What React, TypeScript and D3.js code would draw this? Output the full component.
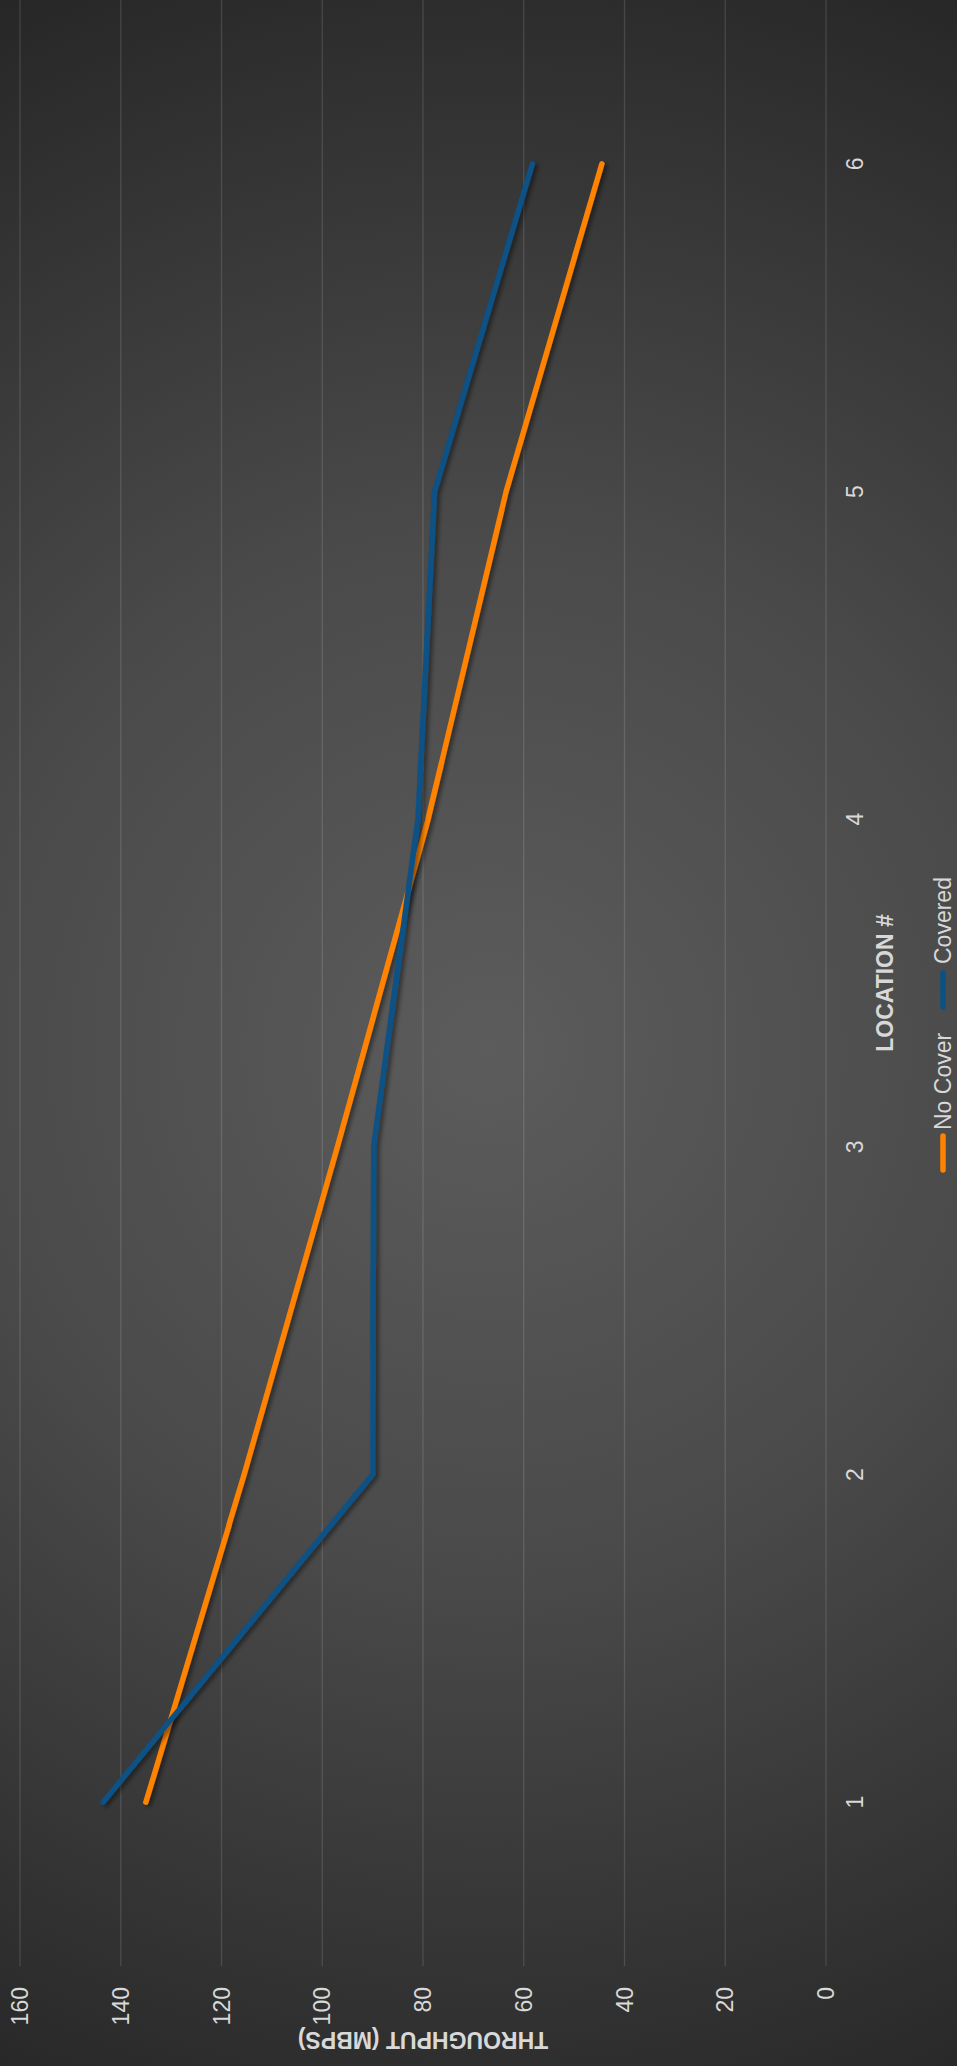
import React from "react";
import * as d3 from "d3";

const locations = [1, 2, 3, 4, 5, 6];
const noCover = [135, 115.5, 97, 79, 63.5, 44.5];
const covered = [143.5, 90, 89.8, 81, 77.7, 58.3];
const yTicks = [0, 20, 40, 60, 80, 100, 120, 140, 160];
const seriesNames = ["No Cover", "Covered"];
const seriesColors = ["#ff8300", "#0a5185"];

const PAGE_W = 957;
const PAGE_H = 2066;
// chart is drawn in its own (unrotated) frame: width = PAGE_H, height = PAGE_W
const W = PAGE_H;
const FONT = "'Liberation Sans', Arial, Helvetica, sans-serif";

export default function App() {
  const x = d3.scalePoint<number>().domain(locations).range([100, W]).padding(0.5);
  const y = d3.scaleLinear().domain([0, 160]).range([826, 20]);
  const line = d3
    .line<number>()
    .x((_, i) => x(locations[i]) as number)
    .y((d) => y(d));
  const series = [noCover, covered];

  const legendItems = [
    { lx: 893, tx: 936 },
    { lx: 1056, tx: 1102 },
  ];

  return (
    <>
      <style>{`body{margin:0;}`}</style>
      <svg
        width={PAGE_W}
        height={PAGE_H}
        style={{ position: "absolute", left: 0, top: 0, display: "block" }}
      >
        <defs>
          <radialGradient id="bg" gradientUnits="userSpaceOnUse" cx={490} cy={1050} r={1150}>
            <stop offset="0" stopColor="#5c5c5c" />
            <stop offset="0.45" stopColor="#4a4a4a" />
            <stop offset="1" stopColor="#272727" />
          </radialGradient>
          <filter id="shadow" x="-20%" y="-20%" width="140%" height="140%">
            <feDropShadow dx={-2} dy={3} stdDeviation={2} floodColor="#000" floodOpacity={0.45} />
          </filter>
        </defs>
        <rect x={0} y={0} width={PAGE_W} height={PAGE_H} fill="url(#bg)" />
        <g transform={`translate(0,${PAGE_H}) rotate(-90)`}>
          {yTicks.map((t) => (
            <line
              key={"g" + t}
              x1={100}
              x2={W}
              y1={y(t)}
              y2={y(t)}
              stroke="rgba(255,255,255,0.13)"
              strokeWidth={1.3}
            />
          ))}
          {yTicks.map((t) => (
            <text
              key={"yl" + t}
              x={79}
              y={y(t)}
              textAnchor="end"
              dominantBaseline="central"
              fontFamily={FONT}
              fontSize={23}
              fill="#d8d8d8"
            >
              {t}
            </text>
          ))}
          <text
            transform={`translate(34,${(y(0) + y(160)) / 2}) rotate(-90)`}
            textAnchor="middle"
            fontFamily={FONT}
            fontSize={23}
            fontWeight="bold"
            fill="#d8d8d8"
          >
            THROUGHPUT (MBPS)
          </text>
          {locations.map((l) => (
            <text
              key={"xl" + l}
              x={x(l)}
              y={863}
              textAnchor="middle"
              fontFamily={FONT}
              fontSize={23}
              fill="#d8d8d8"
            >
              {l}
            </text>
          ))}
          <text
            x={(100 + W) / 2}
            y={893}
            textAnchor="middle"
            fontFamily={FONT}
            fontSize={23}
            fontWeight="bold"
            fill="#d8d8d8"
          >
            LOCATION #
          </text>
          {series.map((s, i) => (
            <path
              key={"s" + i}
              d={line(s) as string}
              fill="none"
              stroke={seriesColors[i]}
              strokeWidth={5.5}
              strokeLinecap="round"
              strokeLinejoin="round"
              filter="url(#shadow)"
            />
          ))}
          {seriesNames.map((n, i) => (
            <g key={"lg" + i}>
              <line
                x1={legendItems[i].lx + 3}
                x2={legendItems[i].lx + 37}
                y1={943}
                y2={943}
                stroke={seriesColors[i]}
                strokeWidth={5.5}
                strokeLinecap="round"
              />
              <text
                x={legendItems[i].tx}
                y={951}
                fontFamily={FONT}
                fontSize={23}
                fill="#d8d8d8"
              >
                {n}
              </text>
            </g>
          ))}
        </g>
      </svg>
    </>
  );
}
